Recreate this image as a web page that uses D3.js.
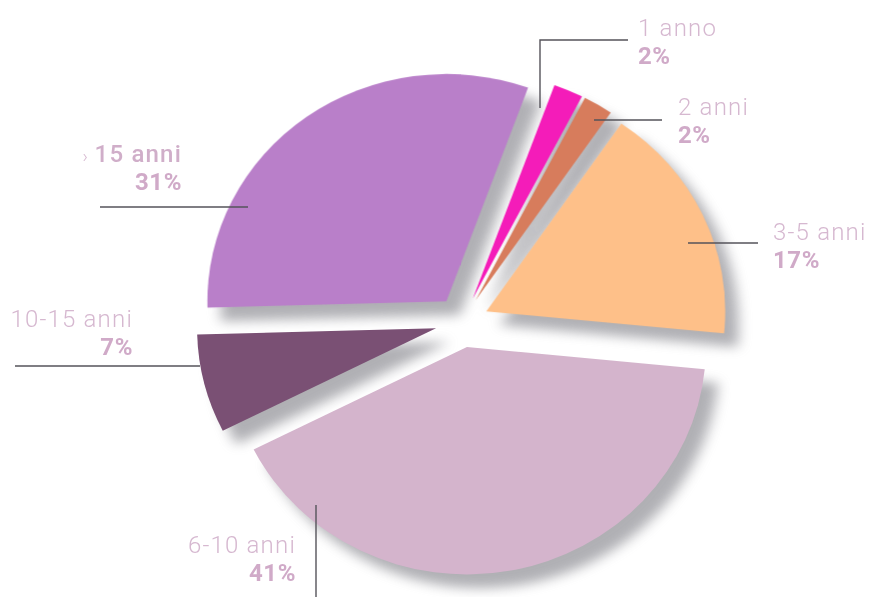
<!DOCTYPE html>
<html>
<head>
<meta charset="utf-8">
<script src="https://cdn.jsdelivr.net/npm/d3@7"></script>
<style>
  html, body { margin: 0; padding: 0; background: #ffffff; }
  svg { display: block; }
  text { font-family: "Roboto", "DejaVu Sans", sans-serif; }
</style>
</head>
<body>
<svg id="chart" width="872" height="597"></svg>
<script>
// ---- data ----
const categories = ["1 anno", "2 anni", "3-5 anni", "6-10 anni", "10-15 anni", "15 anni"];
const prefixes   = ["", "", "", "", "", "\u203A "];
const values     = [2, 2, 17, 41, 7, 31];
const percentLabels = ["2%", "2%", "17%", "41%", "7%", "31%"];
const colors     = ["#f41cb9", "#d77c5c", "#fec089", "#d4b4cc", "#7a5074", "#b97fc9"];

// ---- layout (positions / styles only) ----
const W = 872, H = 597;
const cx = 462, cy = 322, R = 232, explode = 26;
const sx = 1.03, sy = 0.98;
const startAngle = 20 * Math.PI / 180;
const labelLayout = [
  { x: 638, y: 36,  anchor: "start", line: [[540,108],[540,40],[628,40]] },
  { x: 678, y: 115, anchor: "start", line: [[594,120],[662,120]] },
  { x: 773, y: 240, anchor: "start", line: [[688,243],[758,243]] },
  { x: 296, y: 553, anchor: "end",   line: [[316,505],[316,597]] },
  { x: 133, y: 327, anchor: "end",   line: [[15,366],[200,366]] },
  { x: 182, y: 162, anchor: "end",   line: [[100,207],[248,207]] }
];

const svg = d3.select("#chart");
const defs = svg.append("defs");
const f = defs.append("filter").attr("id", "blur")
  .attr("x", "-30%").attr("y", "-30%").attr("width", "160%").attr("height", "160%");
f.append("feGaussianBlur").attr("stdDeviation", 6);

const pie = d3.pie().sort(null).value(d => d)
  .startAngle(startAngle).endAngle(startAngle + 2 * Math.PI);
const arcs = pie(values);
const arc = d3.arc().innerRadius(0).outerRadius(R);

function offset(d) {
  const m = (d.startAngle + d.endAngle) / 2;
  return [explode * Math.sin(m), -explode * Math.cos(m)];
}

const root = svg.append("g").attr("transform", `translate(${cx},${cy}) scale(${sx},${sy})`);

// shadows
root.append("g").attr("filter", "url(#blur)").attr("opacity", 0.62)
  .selectAll("path").data(arcs).join("path")
  .attr("d", arc)
  .attr("fill", "#808087")
  .attr("transform", d => { const o = offset(d); return `translate(${o[0] + 13},${o[1] + 14})`; });

// slices
root.append("g").selectAll("path").data(arcs).join("path")
  .attr("d", arc)
  .attr("fill", (d, i) => colors[i])
  .attr("transform", d => { const o = offset(d); return `translate(${o[0]},${o[1]})`; });

// leader lines
const line = d3.line();
svg.append("g").selectAll("path").data(labelLayout).join("path")
  .attr("d", d => line(d.line))
  .attr("fill", "none")
  .attr("stroke", "#55535a")
  .attr("stroke-width", 1.4);

// labels
const lg = svg.append("g");
labelLayout.forEach((L, i) => {
  const t1 = lg.append("text")
    .attr("x", L.x).attr("y", L.y)
    .attr("text-anchor", L.anchor)
    .attr("font-size", 24)
    .attr("letter-spacing", 1.2)
    .attr("fill", "#d6b8d0");
  if (prefixes[i]) {
    t1.append("tspan").attr("font-weight", 300).attr("font-size", 18).text(prefixes[i]);
    t1.append("tspan").attr("font-weight", 500).attr("fill", "#d0aec9").text(categories[i]);
  } else {
    t1.attr("font-weight", 300).text(categories[i]);
  }
  lg.append("text")
    .attr("x", L.x).attr("y", L.y + 28)
    .attr("text-anchor", L.anchor)
    .attr("font-size", 24)
    .attr("font-weight", 700)
    .attr("letter-spacing", 0.6)
    .attr("fill", "#d0aac8")
    .text(percentLabels[i]);
});
</script>
</body>
</html>
